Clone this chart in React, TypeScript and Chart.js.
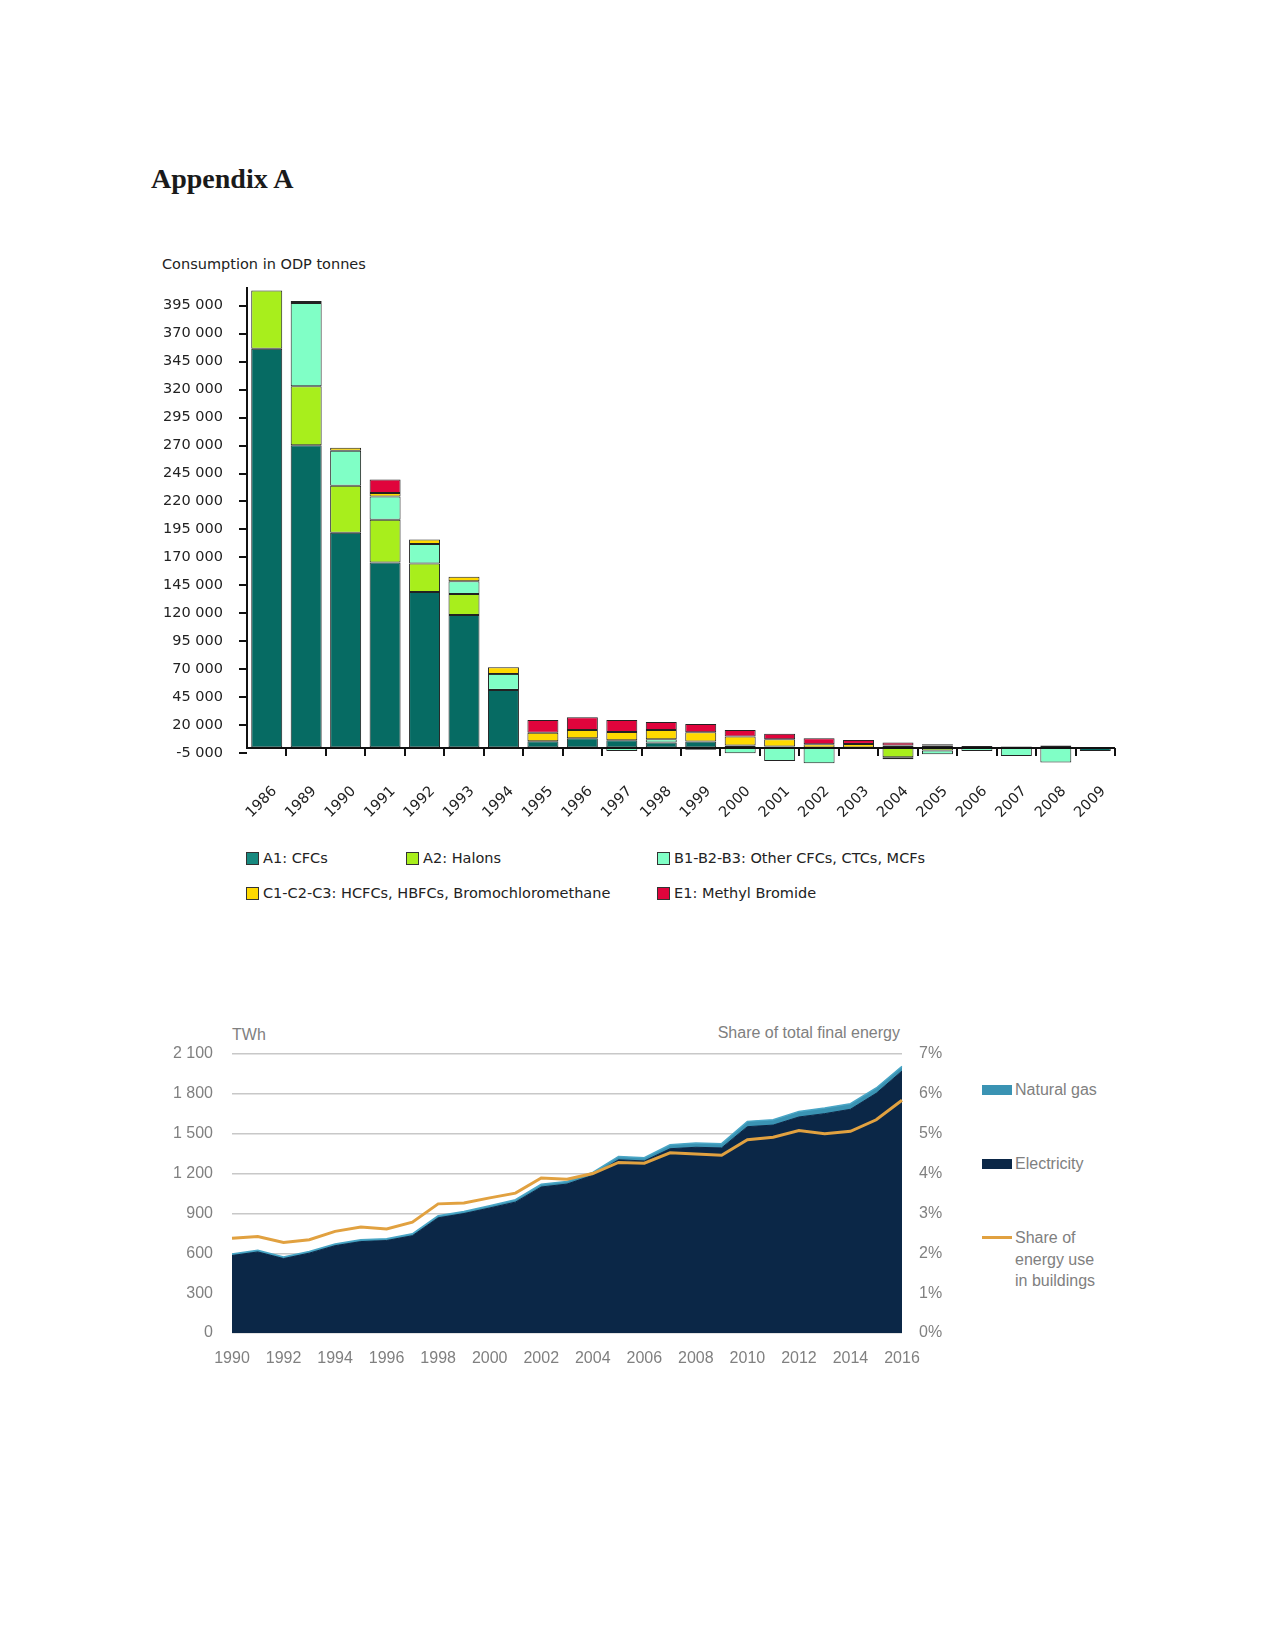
import React, { useEffect, useRef } from 'react';
import { Chart, registerables } from 'chart.js';

Chart.register(...registerables);

// ---------- Chart 1: ODP consumption ----------
const odpYears = ['1986', '1989', '1990', '1991', '1992', '1993', '1994', '1995', '1996', '1997', '1998', '1999', '2000', '2001', '2002', '2003', '2004', '2005', '2006', '2007', '2008', '2009'];
const a1CFCs = [356500, 270200, 192000, 165400, 139100, 118500, 51600, 5700, 8400, 6600, 4500, 5400, 2000, 1000, 0, 0, 0, 2000, 1500, 1000, 0, -3000];
const a2Halons = [52000, 52900, 42100, 38200, 25400, 18800, 0, 0, 0, 0, 0, 0, 0, 0, 0, 0, -8700, -2500, 0, 0, 0, 0];
const bOtherCFCs = [0, 74300, 31300, 20900, 17600, 11300, 14300, 0, 0, -3000, 3000, -2000, -5000, -12000, -14000, 0, -1800, -3500, -3000, -7500, -13400, 0];
const cHCFCs = [0, 1800, 2700, 3000, 3900, 4200, 6000, 7700, 7400, 7400, 8300, 8300, 7900, 6500, 3000, 3300, 1800, 0, 0, 0, 2000, 0];
const eMethylBromide = [0, 0, 0, 12200, 0, 0, 0, 11400, 11400, 10800, 7200, 7500, 5900, 5000, 5400, 3600, 2700, 1000, 0, 0, 0, 0];
const odpTicks = [-5000, 20000, 45000, 70000, 95000, 120000, 145000, 170000, 195000, 220000, 245000, 270000, 295000, 320000, 345000, 370000, 395000];
const odpSeriesNames = ['A1: CFCs', 'A2: Halons', 'B1-B2-B3: Other CFCs, CTCs, MCFs', 'C1-C2-C3: HCFCs, HBFCs, Bromochloromethane', 'E1: Methyl Bromide'];

// ---------- Chart 2: energy in buildings ----------
const energyYears = ['1990', '1991', '1992', '1993', '1994', '1995', '1996', '1997', '1998', '1999', '2000', '2001', '2002', '2003', '2004', '2005', '2006', '2007', '2008', '2009', '2010', '2011', '2012', '2013', '2014', '2015', '2016'];
const electricityTWh = [583, 610, 560, 601, 657, 688, 696, 732, 867, 899, 941, 985, 1099, 1121, 1187, 1304, 1295, 1387, 1398, 1393, 1553, 1565, 1626, 1651, 1684, 1804, 1972];
const naturalGasTWh = [12, 12, 12, 13, 13, 14, 14, 15, 16, 16, 17, 18, 20, 20, 22, 25, 25, 30, 32, 32, 40, 40, 42, 42, 42, 40, 35];
const buildingsSharePct = [2.38, 2.42, 2.27, 2.34, 2.55, 2.66, 2.61, 2.78, 3.24, 3.26, 3.39, 3.51, 3.89, 3.86, 4.0, 4.28, 4.26, 4.52, 4.49, 4.46, 4.85, 4.91, 5.08, 5.0, 5.06, 5.35, 5.84];
const twhTicks = [0, 300, 600, 900, 1200, 1500, 1800, 2100];
const shareTicks = [0, 1, 2, 3, 4, 5, 6, 7];

const ODP_COLORS = ['#066b63', '#a8ee1c', '#80ffc6', '#ffd900', '#e0043c'];
const ODP_LEGEND_COLORS = ['#17897f', '#a8ee1c', '#80ffc6', '#ffd900', '#e0043c'];
const GAS_COLOR = '#3a93b3';
const ELEC_COLOR = '#0b2747';
const SHARE_COLOR = '#e1a140';

const VERDANA = "'DejaVu Sans', Verdana, sans-serif";
const ARIAL = "'Liberation Sans', Arial, sans-serif";

function fmtThousands(v: number): string {
  const sign = v < 0 ? '-' : '';
  const a = Math.abs(v);
  if (a < 1000) return sign + String(a);
  const th = Math.floor(a / 1000);
  const rest = String(a % 1000).padStart(3, '0');
  return `${sign}${th} ${rest}`;
}

const odpAxesPlugin = {
  id: 'odpAxes',
  afterDatasetsDraw(chart: any) {
    const { ctx, chartArea, scales } = chart;
    const y = scales.y;
    const y0 = Math.round(y.getPixelForValue(0));
    const left = Math.round(chartArea.left);
    ctx.save();
    ctx.strokeStyle = '#111';
    ctx.lineWidth = 2;
    ctx.beginPath();
    ctx.moveTo(left, chartArea.top);
    ctx.lineTo(left, y0);
    odpTicks.forEach((v) => {
      const py = Math.round(y.getPixelForValue(v));
      ctx.moveTo(left - 8, py);
      ctx.lineTo(left, py);
    });
    ctx.moveTo(left - 1, y0);
    ctx.lineTo(chartArea.right, y0);
    const n = odpYears.length;
    const cw = (chartArea.right - chartArea.left) / n;
    for (let i = 1; i <= n; i++) {
      const px = Math.round(chartArea.left + i * cw);
      ctx.moveTo(px, y0);
      ctx.lineTo(px, y0 + 8);
    }
    ctx.stroke();
    ctx.restore();
  },
};

function OdpChart() {
  const ref = useRef<HTMLCanvasElement>(null);
  useEffect(() => {
    if (!ref.current) return;
    const series = [a1CFCs, a2Halons, bOtherCFCs, cHCFCs, eMethylBromide];
    const chart = new Chart(ref.current, {
      type: 'bar',
      data: {
        labels: odpYears,
        datasets: series.map((arr, i) => ({
          label: odpSeriesNames[i],
          data: arr.map((v) => (v === 0 ? null : v)),
          backgroundColor: ODP_COLORS[i],
          borderColor: '#222',
          borderWidth: 1,
          borderSkipped: false,
          barPercentage: 0.785,
          categoryPercentage: 1,
        })),
      },
      options: {
        animation: false,
        responsive: false,
        devicePixelRatio: 1,
        layout: { padding: { top: 47, right: 25, left: 0, bottom: 0 } },
        plugins: { legend: { display: false }, tooltip: { enabled: false } },
        scales: {
          x: {
            stacked: true,
            offset: true,
            grid: { display: false, drawTicks: false },
            border: { display: false },
            ticks: {
              autoSkip: false,
              minRotation: 45,
              maxRotation: 45,
              padding: 13,
              labelOffset: 8,
              color: '#222',
              font: { family: VERDANA, size: 14.5 },
            },
            afterFit: (s: any) => { s.height = 70; },
          },
          y: {
            stacked: true,
            min: -20000,
            max: 411700,
            afterBuildTicks: (s: any) => { s.ticks = odpTicks.map((v) => ({ value: v })); },
            grid: { display: false, drawTicks: false },
            border: { display: false },
            ticks: {
              padding: 24,
              color: '#222',
              font: { family: VERDANA, size: 14.5 },
              callback: (v: any) => fmtThousands(Number(v)),
            },
            afterFit: (s: any) => { s.width = 107; },
          },
        },
      },
      plugins: [odpAxesPlugin],
    } as any);
    return () => chart.destroy();
  }, []);
  return <canvas ref={ref} width={1000} height={600} style={{ position: 'absolute', left: 140, top: 240, width: 1000, height: 600 }} />;
}

function EnergyChart() {
  const ref = useRef<HTMLCanvasElement>(null);
  useEffect(() => {
    if (!ref.current) return;
    const chart = new Chart(ref.current, {
      type: 'line',
      data: {
        labels: energyYears,
        datasets: [
          {
            label: 'Share of energy use in buildings',
            data: buildingsSharePct,
            yAxisID: 'y2',
            borderColor: SHARE_COLOR,
            borderWidth: 3,
            pointRadius: 0,
            fill: false,
            tension: 0,
          },
          {
            label: 'Electricity',
            data: electricityTWh,
            yAxisID: 'y',
            borderColor: ELEC_COLOR,
            backgroundColor: ELEC_COLOR,
            borderWidth: 1,
            pointRadius: 0,
            fill: 'origin',
            tension: 0,
          },
          {
            label: 'Natural gas',
            data: naturalGasTWh,
            yAxisID: 'y',
            borderColor: '#4aa6c6',
            backgroundColor: GAS_COLOR,
            borderWidth: 1.5,
            pointRadius: 0,
            fill: '-1',
            tension: 0,
          },
        ],
      },
      options: {
        animation: false,
        responsive: false,
        devicePixelRatio: 1,
        layout: { padding: { top: 54, right: 0, left: 0, bottom: 6 } },
        plugins: { legend: { display: false }, tooltip: { enabled: false } },
        scales: {
          x: {
            offset: false,
            grid: { display: false, drawTicks: false },
            border: { display: false },
            ticks: {
              autoSkip: false,
              maxRotation: 0,
              minRotation: 0,
              padding: 16,
              color: '#808080',
              font: { family: ARIAL, size: 16 },
              callback: (_v: any, i: number) => (i % 2 === 0 ? energyYears[i] : ''),
            },
            afterFit: (s: any) => { s.height = 41; },
          },
          y: {
            stacked: true,
            position: 'left',
            min: 0,
            max: 2100,
            afterBuildTicks: (s: any) => { s.ticks = twhTicks.map((v) => ({ value: v })); },
            grid: { color: '#c8c8c8', lineWidth: 1.5, drawTicks: false },
            border: { display: false },
            ticks: {
              padding: 19,
              color: '#808080',
              font: { family: ARIAL, size: 16 },
              callback: (v: any) => fmtThousands(Number(v)),
            },
            afterFit: (s: any) => { s.width = 82; },
          },
          y2: {
            stacked: false,
            position: 'right',
            min: 0,
            max: 7,
            afterBuildTicks: (s: any) => { s.ticks = shareTicks.map((v) => ({ value: v })); },
            grid: { display: false, drawTicks: false },
            border: { display: false },
            ticks: {
              padding: 17,
              color: '#808080',
              font: { family: ARIAL, size: 16 },
              callback: (v: any) => `${v}%`,
            },
            afterFit: (s: any) => { s.width = 68; },
          },
        },
      },
    } as any);
    return () => chart.destroy();
  }, []);
  return <canvas ref={ref} width={820} height={380} style={{ position: 'absolute', left: 150, top: 1000, width: 820, height: 380 }} />;
}

const abs = (left: number, top: number, extra: React.CSSProperties = {}): React.CSSProperties => ({
  position: 'absolute',
  left,
  top,
  margin: 0,
  whiteSpace: 'nowrap',
  ...extra,
});

function OdpLegendItem({ left, top, color, text }: { left: number; top: number; color: string; text: string }) {
  return (
    <div style={abs(left, top, { display: 'flex', alignItems: 'center', font: `14.5px ${VERDANA}`, color: '#222', lineHeight: '17px' })}>
      <span style={{ display: 'inline-block', width: 11, height: 11, background: color, border: '1px solid #333', marginRight: 4 }} />
      <span>{text}</span>
    </div>
  );
}

export default function App() {
  return (
    <div style={{ position: 'absolute', left: 0, top: 0, width: 1275, height: 1650 }}>
      <div style={abs(151, 163, { font: `bold 28px 'Liberation Serif', 'Times New Roman', serif`, color: '#1a1a1a' })}>Appendix A</div>

      <div style={abs(162, 256, { font: `14.5px ${VERDANA}`, color: '#222', lineHeight: '17px' })}>Consumption in ODP tonnes</div>
      <OdpChart />
      <OdpLegendItem left={246} top={850} color={ODP_LEGEND_COLORS[0]} text={odpSeriesNames[0]} />
      <OdpLegendItem left={406} top={850} color={ODP_LEGEND_COLORS[1]} text={odpSeriesNames[1]} />
      <OdpLegendItem left={657} top={850} color={ODP_LEGEND_COLORS[2]} text={odpSeriesNames[2]} />
      <OdpLegendItem left={246} top={885} color={ODP_LEGEND_COLORS[3]} text={odpSeriesNames[3]} />
      <OdpLegendItem left={657} top={885} color={ODP_LEGEND_COLORS[4]} text={odpSeriesNames[4]} />

      <div style={abs(232, 1024, { font: `16px ${ARIAL}`, color: '#808080', lineHeight: '21px' })}>TWh</div>
      <div style={abs(600, 1022, { width: 300, textAlign: 'right', font: `16px ${ARIAL}`, color: '#808080', lineHeight: '21px' })}>Share of total final energy</div>
      <EnergyChart />

      <div style={abs(982, 1085, { width: 30, height: 10, background: GAS_COLOR })} />
      <div style={abs(1015, 1079, { font: `16px ${ARIAL}`, color: '#808080', lineHeight: '21px' })}>Natural gas</div>
      <div style={abs(982, 1159, { width: 30, height: 10, background: ELEC_COLOR })} />
      <div style={abs(1015, 1153, { font: `16px ${ARIAL}`, color: '#808080', lineHeight: '21px' })}>Electricity</div>
      <div style={abs(982, 1236, { width: 30, height: 3, background: SHARE_COLOR })} />
      <div style={abs(1015, 1227, { font: `16px ${ARIAL}`, color: '#808080', lineHeight: '21.5px', whiteSpace: 'normal', width: 110 })}>
        Share of<br />energy use<br />in buildings
      </div>
    </div>
  );
}
